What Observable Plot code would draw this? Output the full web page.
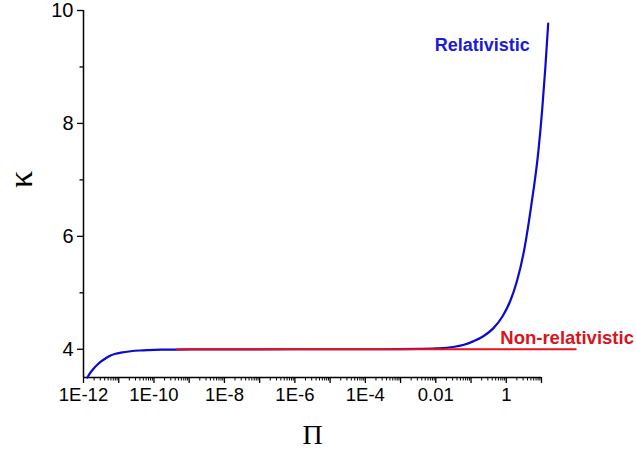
<!DOCTYPE html>
<html>
<head>
<meta charset="utf-8">
<script src="https://cdn.jsdelivr.net/npm/d3@7"></script>
<script src="https://cdn.jsdelivr.net/npm/@observablehq/plot@0.6"></script>
<style>
  html, body { margin: 0; padding: 0; background: #fff; }
</style>
</head>
<body>
<div id="chart"></div>
<script>
// Relativistic curve: log10(Π) and κ
const relLogPi = [-11.89, -11.80, -11.71, -11.60, -11.51, -11.37, -11.23, -11.09, -10.94, -10.66, -10.40, -10.17, -9.80, -9.34, -8, -6, -4, -3, -2.5, -2.0, -1.51, -1.2, -0.94, -0.65, -0.37, -0.1, 0.11, 0.3, 0.49, 0.71, 0.91, 1.02, 1.11, 1.19];
const relKappa = [3.5, 3.59, 3.66, 3.73, 3.78, 3.84, 3.89, 3.92, 3.94, 3.965, 3.978, 3.985, 3.992, 3.995, 3.999, 4.0, 4.0, 4.002, 4.006, 4.015, 4.04, 4.08, 4.14, 4.23, 4.37, 4.59, 4.85, 5.2, 5.7, 6.55, 7.5, 8.25, 9.0, 9.77];

// Non-relativistic line
const nonrelLogPi = [-9.34, 1.97];
const nonrelKappa = [4, 4];

// Axis ticks
const xMajorExp = [-12, -11, -10, -9, -8, -7, -6, -5, -4, -3, -2, -1, 0, 1];
const xLabelExp = [-12, -10, -8, -6, -4, -2, 0];
const xTickLabels = ["1E-12", "1E-10", "1E-8", "1E-6", "1E-4", "0.01", "1"];
const yMajorTicks = [4, 6, 8, 10];
const yMinorTicks = [5, 7, 9];

const rel = relLogPi.map((e, i) => ({pi: Math.pow(10, e), k: relKappa[i]}));
const nonrel = nonrelLogPi.map((e, i) => ({pi: Math.pow(10, e), k: nonrelKappa[i]}));
const xMajor = xMajorExp.map(e => Math.pow(10, e));
const xMinor = [];
for (let e = -12; e < 1; e++) for (let m = 2; m <= 9; m++) xMinor.push(m * Math.pow(10, e));
const labelMap = new Map(xLabelExp.map((e, i) => [e, xTickLabels[i]]));
const fmtX = d => { const e = Math.round(Math.log10(d)); return labelMap.has(e) ? labelMap.get(e) : ""; };

const blue = "#0a0ad0";
const red = "#e6121c";

const chart = Plot.plot({
  width: 636,
  height: 455,
  marginLeft: 83,
  marginRight: 95,
  marginTop: 10,
  marginBottom: 78,
  style: {fontFamily: "'Liberation Sans', Arial, sans-serif", fontSize: "18px", color: "#000", background: "#fff"},
  x: {type: "log", domain: [1e-12, 10]},
  y: {domain: [3.5, 10]},
  marks: [
    Plot.axisX({ticks: xMajor, tickSize: 6, tickPadding: 4, tickFormat: fmtX, label: null, stroke: "#000", strokeWidth: 1.3, fontSize: 18.5}),
    Plot.axisX({ticks: xMinor, tickSize: 3.5, tickFormat: () => "", label: null, stroke: "#000", strokeWidth: 1}),
    Plot.axisY({ticks: yMajorTicks, tickSize: 6, tickPadding: 4, tickFormat: d => String(d), label: null, stroke: "#000", strokeWidth: 1.3, fontSize: 20}),
    Plot.axisY({ticks: yMinorTicks, tickSize: 3.5, tickFormat: () => "", label: null, stroke: "#000", strokeWidth: 1.3}),
    Plot.ruleX([1e-12], {stroke: "#000", strokeWidth: 1.5}),
    Plot.ruleY([3.5], {stroke: "#000", strokeWidth: 1.5}),
    Plot.line(rel, {x: "pi", y: "k", stroke: blue, strokeWidth: 2.2, curve: "monotone-x"}),
    Plot.line(nonrel, {x: "pi", y: "k", stroke: red, strokeWidth: 2.2}),
    Plot.text(["Relativistic"], {x: Math.pow(10, -2.03), y: 9.38, textAnchor: "start", fill: "#1a1adb", fontWeight: "bold", fontSize: 18}),
    Plot.text(["Non-relativistic"], {x: Math.pow(10, -0.17), y: 4.19, textAnchor: "start", fill: "#d9141c", fontWeight: "bold", fontSize: 18.5}),
    Plot.text(["Π"], {frameAnchor: "bottom", dy: 66, fontSize: 28, fontFamily: "'Liberation Serif', 'Times New Roman', serif", fill: "#000"}),
    Plot.text(["κ"], {frameAnchor: "left", dx: -62, dy: -6, rotate: -90, fontSize: 34, fontFamily: "'Liberation Serif', 'Times New Roman', serif", fill: "#000"})
  ]
});
document.getElementById("chart").appendChild(chart);
</script>
</body>
</html>
